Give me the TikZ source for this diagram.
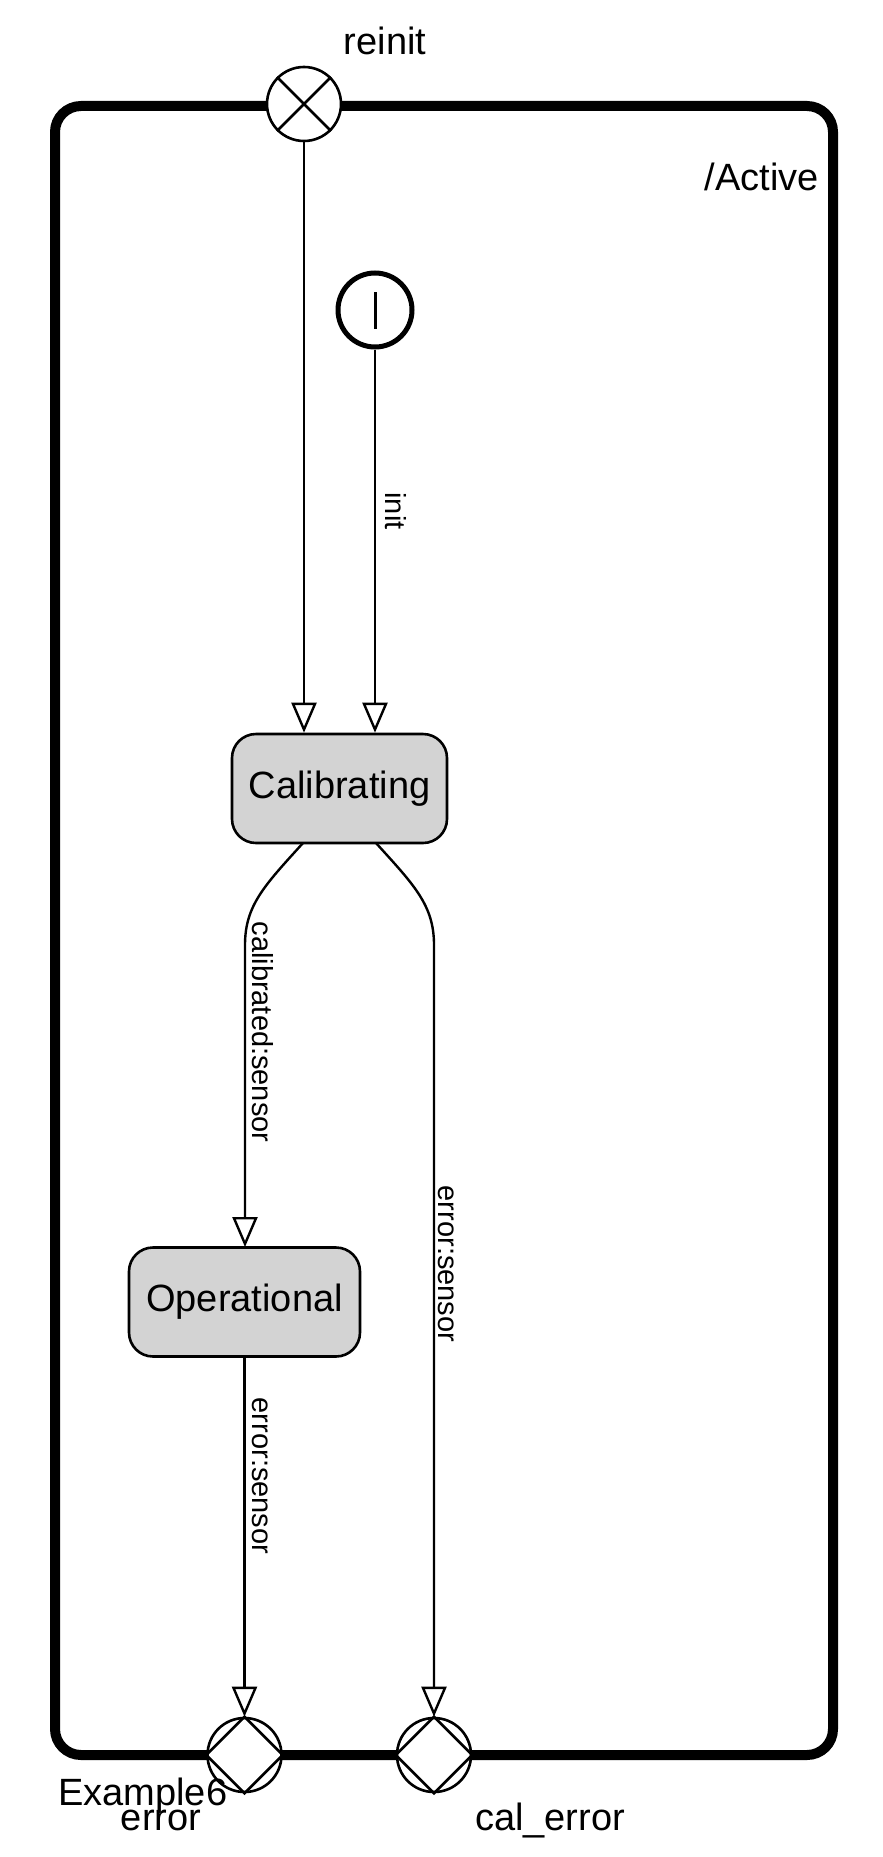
\documentclass[tikz,border=0pt]{standalone}
\usepackage{fontspec}
\setmainfont{Liberation Sans}
\usetikzlibrary{arrows.meta,shapes.geometric}
\begin{document}
\begin{tikzpicture}[x=1pt,y=-1pt,
  statebox/.style={draw,line width=2.6pt,fill={rgb,255:red,211;green,211;blue,211},rounded corners=24pt,minimum width=#1,minimum height=109pt,inner sep=0pt,font=\fontsize{38}{40}\selectfont},
  pin/.style={draw,circle,line width=2.6pt,fill=white,minimum size=74pt,inner sep=0pt},
  conn/.style={line width=2.4pt,-{Triangle[open,length=30pt,width=25pt,line width=2.4pt]}},
  elabel/.style={rotate=-90,font=\fontsize{29}{31}\selectfont,inner sep=0pt,anchor=south},
  biglabel/.style={font=\fontsize{38}{40}\selectfont,inner sep=0pt}]
\useasboundingbox (0,0) rectangle (883,1857);
% container
\draw[line width=10pt,rounded corners=26pt] (55,106) rectangle (833,1755);
\node[biglabel,anchor=base east] (active) at (819,190) {/Active};
% entry point
\node[pin] (reinit) at (304,104) {};
\draw[line width=2.6pt] (reinit.north east) -- (reinit.south west) (reinit.north west) -- (reinit.south east);
\node[biglabel,anchor=base] (reinitlbl) at (385,55) {reinit};
% initial
\node[draw,circle,line width=5pt,fill=white,minimum size=74pt,inner sep=0pt] (init) at (375,310) {};
\draw[line width=3pt] (375,292) -- (375,329);
% states
\node[statebox=215pt] (cal) at (339.5,788.5) {Calibrating};
\node[statebox=231pt] (op) at (244.5,1302) {Operational};
% exit points
\node[pin] (err) at (244.5,1755) {};
\node[pin] (calerr) at (434,1755) {};
\foreach \n in {err,calerr}{
  \draw[line width=2.6pt] (\n.north) -- (\n.east) -- (\n.south) -- (\n.west) -- cycle;
}
\node[biglabel,anchor=base west] (ex6) at (58,1805) {Example6};
\node[biglabel,anchor=base] (errlbl) at (161,1830) {error};
\node[biglabel,anchor=base] (calerrlbl) at (550,1830) {cal\_error};
% connectors
\draw[conn] (reinit.south) -- (reinit.south |- cal.north);
\draw[conn] (init.south) -- (init.south |- cal.north);
\coordinate (c1) at (303,843);
\coordinate (c2) at (376,843);
\draw[conn] (c1) .. controls (265,885) and (245,905) .. (245,945) -- (245,1247);
\draw[conn] (c2) .. controls (414,885) and (434,905) .. (434,945) -- (calerr.north);
\draw[conn] (op.south -| err.north) -- (err.north);
% labels
\node[elabel] (l1) at (385,511) {init};
\node[elabel] (l2) at (252,1032) {calibrated:sensor};
\node[elabel] (l3) at (438,1264) {error:sensor};
\node[elabel] (l4) at (252,1476) {error:sensor};
\end{tikzpicture}
\end{document}
